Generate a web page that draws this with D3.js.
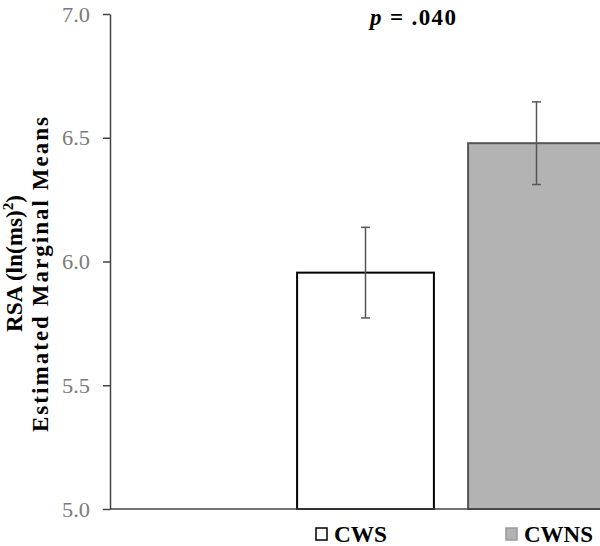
<!DOCTYPE html>
<html>
<head>
<meta charset="utf-8">
<script src="https://cdn.jsdelivr.net/npm/d3@7"></script>
<style>
  body { margin: 0; background: #fff; }
  svg { display: block; font-family: 'Liberation Serif', 'Times New Roman', serif; }
</style>
</head>
<body>
<div id="chart"></div>
<script>
// data
const categories = ['CWS', 'CWNS'];
const means = [5.955, 6.478];
const errors = [0.183, 0.167];
const yTicks = [5.0, 5.5, 6.0, 6.5, 7.0];
const fills = ['#ffffff', '#b3b3b3'];
const strokes = ['#000000', '#555555'];
const pLabel = '.040';

const width = 600, height = 546;

const svg = d3.select('#chart')
  .append('svg')
  .attr('width', width)
  .attr('height', height);

const y = d3.scaleLinear()
  .domain([5, 7])
  .range([509, 14]);

const x = d3.scaleBand()
  .domain(categories)
  .range([280, 622])
  .paddingInner(0.2)
  .paddingOuter(0.1);

// bars
svg.selectAll('.bar')
  .data(categories)
  .enter()
  .append('rect')
  .attr('class', 'bar')
  .attr('x', d => x(d))
  .attr('y', (d, i) => y(means[i]))
  .attr('width', x.bandwidth())
  .attr('height', (d, i) => y(5) - y(means[i]))
  .attr('fill', (d, i) => fills[i])
  .attr('stroke', (d, i) => strokes[i])
  .attr('stroke-width', 2);

// error bars
const err = svg.selectAll('.err')
  .data(categories)
  .enter()
  .append('g')
  .attr('class', 'err')
  .attr('stroke', '#555')
  .attr('stroke-width', 1.5);

err.append('line')
  .attr('x1', d => x(d) + x.bandwidth() / 2)
  .attr('x2', d => x(d) + x.bandwidth() / 2)
  .attr('y1', (d, i) => y(means[i] + errors[i]))
  .attr('y2', (d, i) => y(means[i] - errors[i]));

[1, -1].forEach(s => {
  err.append('line')
    .attr('x1', d => x(d) + x.bandwidth() / 2 - 4.5)
    .attr('x2', d => x(d) + x.bandwidth() / 2 + 4.5)
    .attr('y1', (d, i) => y(means[i] + s * errors[i]))
    .attr('y2', (d, i) => y(means[i] + s * errors[i]));
});

// x baseline
svg.append('line')
  .attr('x1', 110).attr('x2', width)
  .attr('y1', y(5)).attr('y2', y(5))
  .attr('stroke', '#444')
  .attr('stroke-width', 1.5);

// y axis
const yAxis = svg.append('g')
  .attr('transform', 'translate(110,0)')
  .call(d3.axisLeft(y)
    .tickValues(yTicks)
    .tickFormat(d3.format('.1f'))
    .tickSize(7)
    .tickSizeOuter(0)
    .tickPadding(13));

yAxis.select('.domain').attr('stroke', '#444').attr('stroke-width', 1.5);
yAxis.selectAll('.tick line').attr('stroke', '#444').attr('stroke-width', 1.5);
yAxis.selectAll('.tick text')
  .attr('fill', '#7a7a7a')
  .attr('textLength', 28)
  .attr('lengthAdjust', 'spacingAndGlyphs')
  .style('font-family', "'Liberation Serif', serif")
  .style('font-size', '22px');

// y title
const title = svg.append('g')
  .attr('font-weight', 'bold')
  .attr('font-size', '23px')
  .attr('fill', '#000');

const t1 = title.append('text')
  .attr('transform', 'translate(22,263.5) rotate(-90)')
  .attr('text-anchor', 'middle')
  .attr('textLength', 137)
  .attr('lengthAdjust', 'spacingAndGlyphs');
t1.append('tspan').text('RSA (ln(ms)');
t1.append('tspan').attr('dy', -9).attr('font-size', '15px').text('2');
t1.append('tspan').attr('dy', 9).text(')');

title.append('text')
  .attr('transform', 'translate(48,274.5) rotate(-90)')
  .attr('text-anchor', 'middle')
  .attr('textLength', 315)
  .attr('lengthAdjust', 'spacing')
  .text('Estimated Marginal Means');

// p value
const p = svg.append('text')
  .attr('x', 370)
  .attr('y', 24.5)
  .attr('font-size', '23px')
  .attr('font-weight', 'bold')
  .attr('textLength', 86)
  .attr('lengthAdjust', 'spacing');
p.append('tspan').attr('font-style', 'italic').text('p');
p.append('tspan').text(' = ' + pLabel);

// legend
const legendX = d3.scalePoint()
  .domain(categories)
  .range([316, 506]);

const legend = svg.selectAll('.legend')
  .data(categories)
  .enter()
  .append('g')
  .attr('class', 'legend')
  .attr('transform', d => 'translate(' + legendX(d) + ',528)');

legend.append('rect')
  .attr('width', 11)
  .attr('height', 12)
  .attr('fill', (d, i) => fills[i])
  .attr('stroke', (d, i) => i === 0 ? '#000' : '#999')
  .attr('stroke-width', 1.5);

legend.append('text')
  .attr('x', 18)
  .attr('y', 13.7)
  .attr('font-size', '23px')
  .attr('font-weight', 'bold')
  .attr('textLength', (d, i) => i === 0 ? 53 : 69)
  .attr('lengthAdjust', 'spacingAndGlyphs')
  .text(d => d);
</script>
</body>
</html>
